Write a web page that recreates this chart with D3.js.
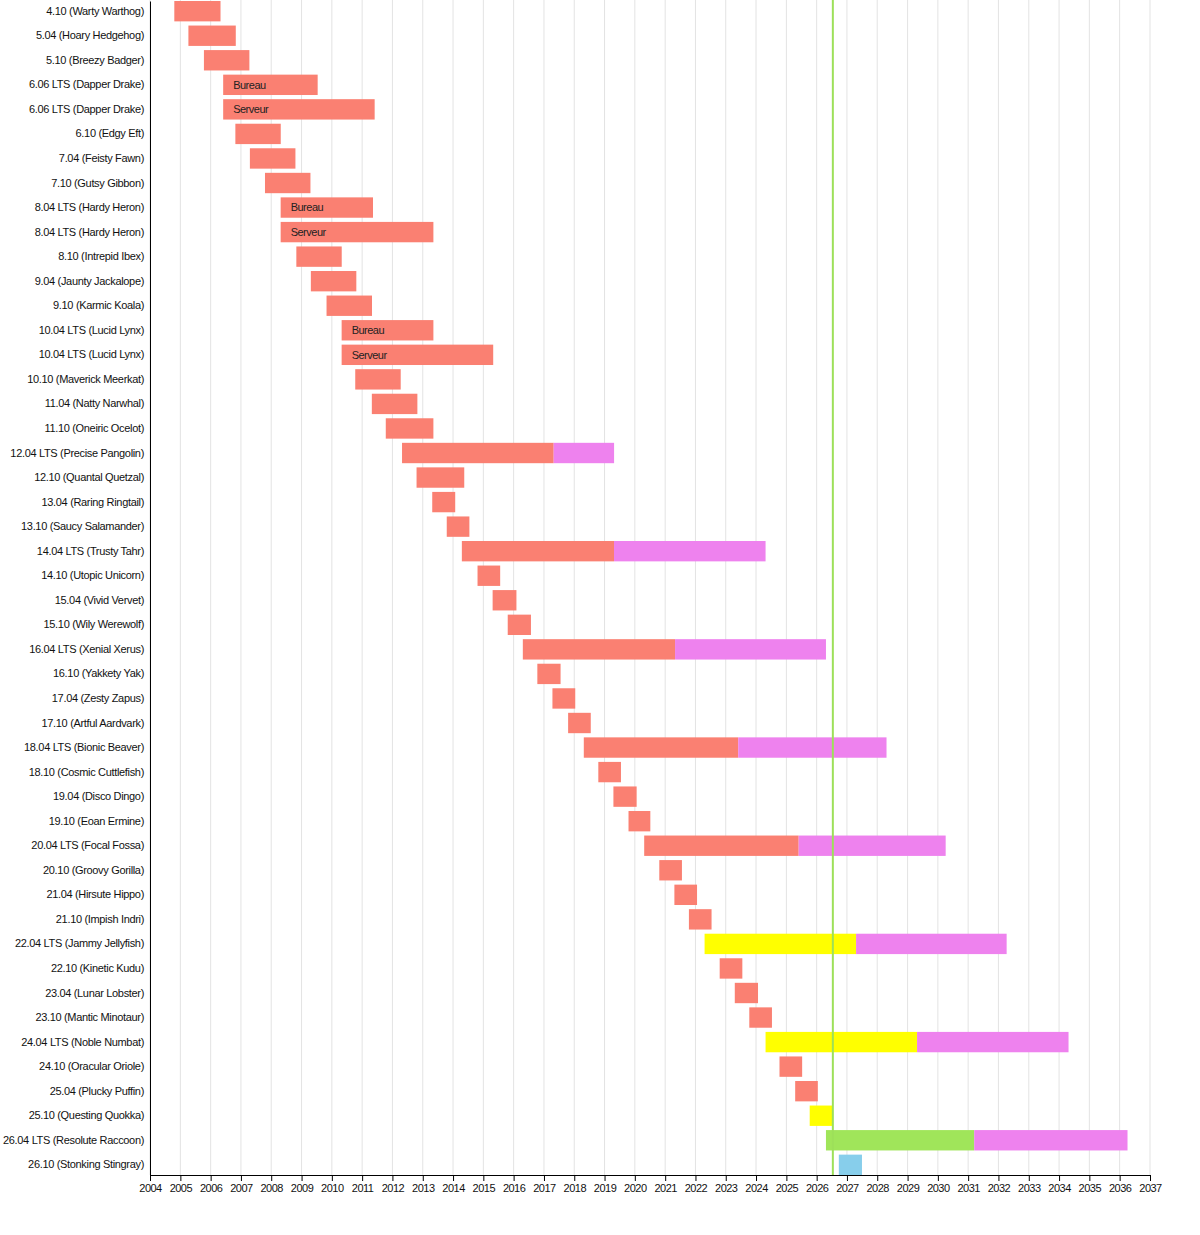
<!DOCTYPE html>
<html>
<head>
<meta charset="utf-8">
<script src="https://cdn.jsdelivr.net/npm/d3@7"></script>
<style>
  body { margin: 0; background: #fff; }
  text { font-family: "Liberation Sans", Arial, sans-serif; }
</style>
</head>
<body>
<svg id="chart" width="1200" height="1235"></svg>
<script>
// Ubuntu versions, one row each (LTS split in Bureau / Serveur for the old ones)
var versions = [
  "4.10 (Warty Warthog)", "5.04 (Hoary Hedgehog)", "5.10 (Breezy Badger)",
  "6.06 LTS (Dapper Drake)", "6.06 LTS (Dapper Drake)", "6.10 (Edgy Eft)",
  "7.04 (Feisty Fawn)", "7.10 (Gutsy Gibbon)", "8.04 LTS (Hardy Heron)",
  "8.04 LTS (Hardy Heron)", "8.10 (Intrepid Ibex)", "9.04 (Jaunty Jackalope)",
  "9.10 (Karmic Koala)", "10.04 LTS (Lucid Lynx)", "10.04 LTS (Lucid Lynx)",
  "10.10 (Maverick Meerkat)", "11.04 (Natty Narwhal)", "11.10 (Oneiric Ocelot)",
  "12.04 LTS (Precise Pangolin)", "12.10 (Quantal Quetzal)", "13.04 (Raring Ringtail)",
  "13.10 (Saucy Salamander)", "14.04 LTS (Trusty Tahr)", "14.10 (Utopic Unicorn)",
  "15.04 (Vivid Vervet)", "15.10 (Wily Werewolf)", "16.04 LTS (Xenial Xerus)",
  "16.10 (Yakkety Yak)", "17.04 (Zesty Zapus)", "17.10 (Artful Aardvark)",
  "18.04 LTS (Bionic Beaver)", "18.10 (Cosmic Cuttlefish)", "19.04 (Disco Dingo)",
  "19.10 (Eoan Ermine)", "20.04 LTS (Focal Fossa)", "20.10 (Groovy Gorilla)",
  "21.04 (Hirsute Hippo)", "21.10 (Impish Indri)", "22.04 LTS (Jammy Jellyfish)",
  "22.10 (Kinetic Kudu)", "23.04 (Lunar Lobster)", "23.10 (Mantic Minotaur)",
  "24.04 LTS (Noble Numbat)", "24.10 (Oracular Oriole)", "25.04 (Plucky Puffin)",
  "25.10 (Questing Quokka)", "26.04 LTS (Resolute Raccoon)", "26.10 (Stonking Stingray)"
];

var editions = [
  "", "", "", "Bureau", "Serveur", "", "", "", "Bureau", "Serveur", "", "", "",
  "Bureau", "Serveur", "", "", "", "", "", "", "", "", "", "", "", "", "", "", "",
  "", "", "", "", "", "", "", "", "", "", "", "", "", "", "", "", "", ""
];

var releases = [
  "2004-10-20", "2005-04-08", "2005-10-12", "2006-06-01", "2006-06-01", "2006-10-26",
  "2007-04-19", "2007-10-18", "2008-04-24", "2008-04-24", "2008-10-30", "2009-04-23",
  "2009-10-29", "2010-04-29", "2010-04-29", "2010-10-10", "2011-04-28", "2011-10-13",
  "2012-04-26", "2012-10-18", "2013-04-25", "2013-10-17", "2014-04-17", "2014-10-23",
  "2015-04-23", "2015-10-22", "2016-04-21", "2016-10-13", "2017-04-13", "2017-10-19",
  "2018-04-26", "2018-10-18", "2019-04-18", "2019-10-17", "2020-04-23", "2020-10-22",
  "2021-04-22", "2021-10-14", "2022-04-21", "2022-10-20", "2023-04-20", "2023-10-12",
  "2024-04-25", "2024-10-10", "2025-04-17", "2025-10-09", "2026-04-23", "2026-09-25"
];

var supportEnds = [
  "2006-04-30", "2006-10-31", "2007-04-13", "2009-07-14", "2011-06-01", "2008-04-25",
  "2008-10-19", "2009-04-18", "2011-05-12", "2013-05-09", "2010-04-30", "2010-10-23",
  "2011-04-30", "2013-05-09", "2015-04-30", "2012-04-10", "2012-10-28", "2013-05-09",
  "2017-04-28", "2014-05-16", "2014-01-27", "2014-07-17", "2019-04-25", "2015-07-23",
  "2016-02-04", "2016-07-28", "2021-04-30", "2017-07-20", "2018-01-13", "2018-07-19",
  "2023-05-31", "2019-07-18", "2020-01-23", "2020-07-06", "2025-05-29", "2021-07-22",
  "2022-01-20", "2022-07-14", "2027-04-21", "2023-07-20", "2024-01-25", "2024-07-11",
  "2029-04-25", "2025-07-10", "2026-01-15", "2026-07-09", "2031-03-15", "2027-07-01"
];

// extended security maintenance end (LTS only)
var esmEnds = [
  null, null, null, null, null, null, null, null, null, null, null, null,
  null, null, null, null, null, null, "2019-04-26", null, null, null, "2024-04-25", null,
  null, null, "2026-04-23", null, null, null, "2028-04-22", null, null, null, "2030-04-05", null,
  null, null, "2032-04-09", null, null, null, "2034-04-25", null, null, null, "2036-04-05", null
];

// eol = end of life, supported, latest = current LTS, future
var supportStates = [
  "eol", "eol", "eol", "eol", "eol", "eol", "eol", "eol", "eol", "eol", "eol", "eol",
  "eol", "eol", "eol", "eol", "eol", "eol", "eol", "eol", "eol", "eol", "eol", "eol",
  "eol", "eol", "eol", "eol", "eol", "eol", "eol", "eol", "eol", "eol", "eol", "eol",
  "eol", "eol", "supported", "eol", "eol", "eol", "supported", "eol", "eol", "supported", "latest", "future"
];

var today = "2026-07-15";

var colors = {eol: "#fa8072", supported: "#ffff00", latest: "#a0e55a", future: "#87ceeb", esm: "#ee82ee"};

var parse = d3.timeParse("%Y-%m-%d");
var rows = versions.map(function(v, i) {
  return {
    i: i, name: v, edition: editions[i],
    start: parse(releases[i]), end: parse(supportEnds[i]),
    esm: esmEnds[i] ? parse(esmEnds[i]) : null, state: supportStates[i]
  };
});

var svg = d3.select("#chart");
var plotLeft = 150, plotRight = 1150, plotTop = 0, plotBottom = 1175;

var x = d3.scaleTime()
  .domain([new Date(2004, 0, 1), new Date(2037, 0, 1)])
  .range([plotLeft, plotRight]);

var y = d3.scaleBand()
  .domain(rows.map(function(d) { return d.i; }))
  .range([plotTop + 1, plotBottom])
  .paddingInner(0.17)
  .paddingOuter(0);

// vertical grid
svg.append("g")
  .selectAll("line")
  .data(x.ticks(d3.timeYear.every(1)))
  .join("line")
  .attr("x1", function(d) { return x(d); })
  .attr("x2", function(d) { return x(d); })
  .attr("y1", plotTop)
  .attr("y2", plotBottom)
  .attr("stroke", "#e3e3e3")
  .attr("stroke-width", 1);

// support bars
svg.append("g")
  .selectAll("rect")
  .data(rows)
  .join("rect")
  .attr("x", function(d) { return x(d.start); })
  .attr("y", function(d) { return y(d.i); })
  .attr("width", function(d) { return x(d.end) - x(d.start); })
  .attr("height", y.bandwidth())
  .attr("fill", function(d) { return colors[d.state]; });

// ESM bars
svg.append("g")
  .selectAll("rect")
  .data(rows.filter(function(d) { return d.esm; }))
  .join("rect")
  .attr("x", function(d) { return x(d.end); })
  .attr("y", function(d) { return y(d.i); })
  .attr("width", function(d) { return x(d.esm) - x(d.end); })
  .attr("height", y.bandwidth())
  .attr("fill", colors.esm);

// Bureau / Serveur labels
svg.append("g")
  .selectAll("text")
  .data(rows.filter(function(d) { return d.edition; }))
  .join("text")
  .attr("x", function(d) { return x(d.start) + 10; })
  .attr("y", function(d) { return y(d.i) + y.bandwidth() / 2; })
  .attr("dy", "0.35em")
  .attr("font-size", 11)
  .attr("letter-spacing", "-0.5px")
  .attr("fill", "#222")
  .text(function(d) { return d.edition; });

// today line
svg.append("line")
  .attr("x1", x(parse(today)))
  .attr("x2", x(parse(today)))
  .attr("y1", plotTop)
  .attr("y2", plotBottom)
  .attr("stroke", "#9de05a")
  .attr("stroke-width", 2);

// axes
var xAxis = svg.append("g")
  .attr("transform", "translate(0," + plotBottom + ")")
  .call(d3.axisBottom(x).ticks(d3.timeYear.every(1)).tickFormat(d3.timeFormat("%Y")).tickSizeOuter(0));
xAxis.selectAll("text").attr("font-size", 11).attr("letter-spacing", "-0.5px")
  .attr("fill", "#111").attr("font-family", "Liberation Sans, Arial, sans-serif");
xAxis.selectAll("path, line").attr("stroke", "#000");

var yAxis = svg.append("g")
  .attr("transform", "translate(" + plotLeft + ",0)")
  .call(d3.axisLeft(y).tickSize(0).tickPadding(6).tickSizeOuter(0)
    .tickFormat(function(i) { return versions[i]; }));
yAxis.selectAll("text").attr("font-size", 11).attr("letter-spacing", "-0.33px")
  .attr("fill", "#111").attr("font-family", "Liberation Sans, Arial, sans-serif");
yAxis.select("path").attr("stroke", "#000");
</script>
</body>
</html>
